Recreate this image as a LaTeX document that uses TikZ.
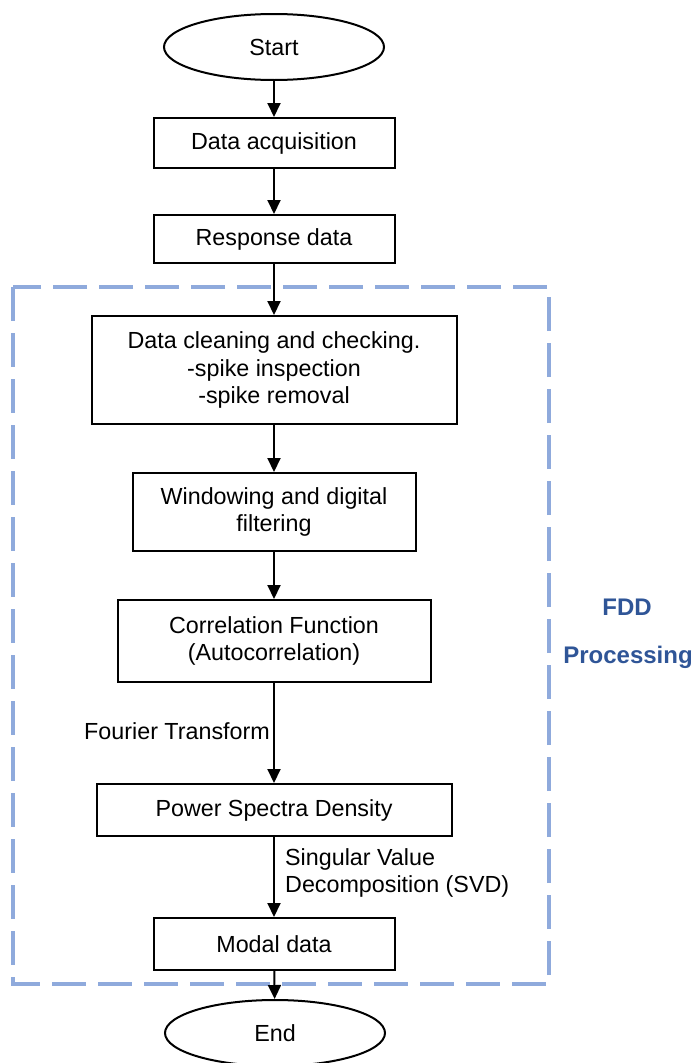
\documentclass[tikz,border=0pt]{standalone}
\usepackage{fontspec}
\setmainfont{Liberation Sans}
\usetikzlibrary{arrows.meta,shapes.geometric}
\definecolor{frameblue}{HTML}{8FAADC}
\definecolor{labelblue}{HTML}{2F5597}
\begin{document}
\begin{tikzpicture}[x=1pt,y=-1pt,
  every node/.style={font=\fontsize{23.3}{27.5}\selectfont},
  stepbox/.style={draw, line width=2pt, rectangle, align=center, inner sep=0pt},
  terminal/.style={draw, line width=2pt, ellipse, inner sep=0pt, minimum width=220, minimum height=66},
  flow/.style={line width=2pt, -{Triangle[length=14pt,width=13pt]}},
  edgetext/.style={inner sep=0pt, align=left}
]
\useasboundingbox (0,0) rectangle (697,1063);

% processing frame
\draw[frameblue, line width=4pt, dash pattern=on 34pt off 12pt] (13,287) rectangle (549,984);
\node[text=labelblue, font=\fontsize{24}{28}\selectfont\bfseries] (fdd) at (627,607) {FDD};
\node[text=labelblue, font=\fontsize{24}{28}\selectfont\bfseries] (proc) at (628,657) {Processing};

% flow chart nodes
\node[terminal] (start) at (274,47) {Start};
\node[stepbox, minimum width=241, minimum height=50] (acq) at (274,143) {Data acquisition};
\node[stepbox, minimum width=241, minimum height=48] (resp) at (274,239) {Response data};
\node[stepbox, minimum width=365, minimum height=108] (clean) at (274,370)
  {Data cleaning and checking.\\-spike inspection\\-spike removal};
\node[stepbox, minimum width=283, minimum height=78] (win) at (274,512)
  {Windowing and digital\\filtering};
\node[stepbox, minimum width=313, minimum height=82] (corr) at (274,641)
  {Correlation Function\\(Autocorrelation)};
\node[stepbox, minimum width=355, minimum height=52] (psd) at (274,810) {Power Spectra Density};
\node[stepbox, minimum width=241, minimum height=52] (modal) at (274,944) {Modal data};
\node[terminal] (end) at (275,1033) {End};

% connectors
\draw[flow] (start) -- (acq);
\draw[flow] (acq) -- (resp);
\draw[flow] (resp) -- (clean);
\draw[flow] (clean) -- (win);
\draw[flow] (win) -- (corr);
\draw[flow] (corr) -- (psd);
\draw[flow] (psd) -- (modal);
\draw[flow] (modal) -- (end);

% transformation labels
\node[edgetext, anchor=east] (ft) at (270,731) {Fourier Transform};
\node[edgetext, anchor=west] (svd) at (285,873) {Singular Value\\Decomposition (SVD)};
\end{tikzpicture}
\end{document}
